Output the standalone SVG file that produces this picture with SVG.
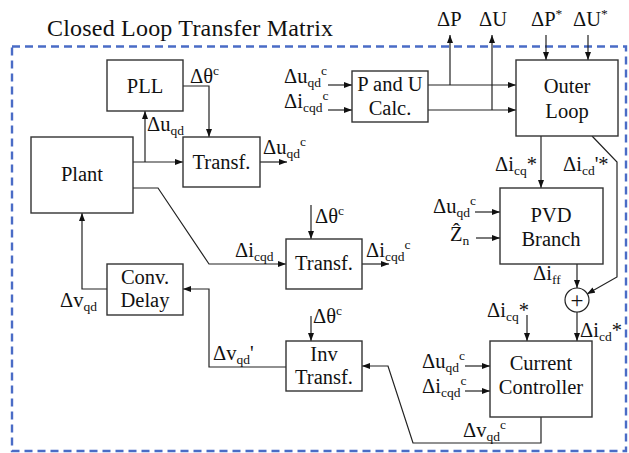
<svg xmlns="http://www.w3.org/2000/svg" width="629" height="453" viewBox="0 0 629 453">
<style>
text{font-family:"Liberation Serif","DejaVu Serif",serif;font-size:20.5px;fill:#111}
.t{font-size:24px}
.s{font-size:13.5px}
.box{fill:#fff;stroke:#333;stroke-width:1.4}
.ln{fill:none;stroke:#222;stroke-width:1.2}
.a{marker-end:url(#ar)}
.c{text-anchor:middle}
</style>
<defs>
<marker id="ar" markerUnits="userSpaceOnUse" markerWidth="8" markerHeight="6" refX="8" refY="3" orient="auto"><path d="M0,0 L8,3 L0,6 z" fill="#111"/></marker>
</defs>
<rect x="12" y="46.5" width="614" height="404.5" fill="none" stroke="#4a6cc6" stroke-width="2.4" stroke-dasharray="8,5"/>
<text class="t" x="47" y="36" textLength="286">Closed Loop Transfer Matrix</text>

<g id="connectors">
<path class="ln a" d="M133,162 H183"/>
<path class="ln a" d="M145,162 V111"/>
<path class="ln a" d="M183,86 H209 V137"/>
<path class="ln a" d="M260,162 H287"/>
<path class="ln a" d="M133,188 H158 L209,264 H286"/>
<path class="ln a" d="M311,205 V239"/>
<path class="ln a" d="M362,264 H389"/>
<path class="ln a" d="M107,289 H82 V213"/>
<path class="ln a" d="M286,367 H209 V289 H183"/>
<path class="ln a" d="M311,316 V341"/>
<path class="ln a" d="M541,417 V443 H413 L388,366 H362"/>
<path class="ln a" d="M465,366 H490"/>
<path class="ln a" d="M465,391 H490"/>
<path class="ln a" d="M527,315 V341"/>
<path class="ln a" d="M577,312 V341"/>
<path class="ln a" d="M577,264 V288"/>
<path class="ln a" d="M541,136 V188"/>
<path class="ln a" d="M592,136 L617,162 V277 L587,294"/>
<path class="ln a" d="M475,212 H500"/>
<path class="ln a" d="M476,238 H500"/>
<path class="ln a" d="M428,85 H516"/>
<path class="ln a" d="M428,110 H516"/>
<path class="ln a" d="M450,85 V35"/>
<path class="ln a" d="M492,110 V35"/>
<path class="ln a" d="M546,35 V60"/>
<path class="ln a" d="M588,35 V60"/>
<path class="ln a" d="M328,85 H352"/>
<path class="ln a" d="M328,110 H352"/>
</g>

<g id="pll"><rect class="box" x="107" y="60" width="76" height="51"/><text class="c" x="145" y="93">PLL</text></g>
<g id="plant"><rect class="box" x="31" y="137" width="102" height="76"/><text class="c" x="82" y="181">Plant</text></g>
<g id="transf1"><rect class="box" x="183" y="137" width="77" height="50"/><text class="c" x="221.5" y="169">Transf.</text></g>
<g id="transf2"><rect class="box" x="286" y="239" width="76" height="50"/><text class="c" x="324" y="270">Transf.</text></g>
<g id="convdelay"><rect class="box" x="107" y="264" width="76" height="51"/><text class="c" x="145" y="284">Conv.</text><text class="c" x="145" y="307">Delay</text></g>
<g id="invtransf"><rect class="box" x="286" y="341" width="76" height="50"/><text class="c" x="324" y="361">Inv</text><text class="c" x="324" y="384">Transf.</text></g>
<g id="pucalc"><rect class="box" x="352" y="71" width="76" height="51"/><text class="c" x="390" y="91">P and U</text><text class="c" x="390" y="115">Calc.</text></g>
<g id="outerloop"><rect class="box" x="516" y="60" width="102" height="76"/><text class="c" x="567" y="93">Outer</text><text class="c" x="567" y="118">Loop</text></g>
<g id="pvd"><rect class="box" x="500" y="188" width="103" height="76"/><text class="c" x="551" y="222">PVD</text><text class="c" x="551" y="246">Branch</text></g>
<g id="cc"><rect class="box" x="490" y="341" width="102" height="76"/><text class="c" x="541" y="370">Current</text><text class="c" x="541" y="394">Controller</text></g>
<g id="sum"><circle cx="577" cy="300" r="12" fill="#fff" stroke="#222" stroke-width="1.2"/><text class="c" x="577" y="308" style="font-size:23px">+</text></g>

<g id="labels">
<text x="190" y="83">Δθ<tspan class="s" dy="-8">c</tspan></text>
<text x="147" y="131">Δu<tspan class="s" dy="4">qd</tspan></text>
<text x="263" y="154">Δu<tspan class="s" dy="4">qd</tspan><tspan class="s" dy="-12">c</tspan></text>
<text x="235" y="257">Δi<tspan class="s" dy="4">cqd</tspan></text>
<text x="315" y="223">Δθ<tspan class="s" dy="-8">c</tspan></text>
<text x="366" y="257">Δi<tspan class="s" dy="4">cqd</tspan><tspan class="s" dy="-12">c</tspan></text>
<text x="433" y="213">Δu<tspan class="s" dy="4">qd</tspan><tspan class="s" dy="-12">c</tspan></text>
<text x="450" y="241">Ẑ<tspan class="s" dy="4">n</tspan></text>
<text x="495" y="171">Δi<tspan class="s" dy="4">cq</tspan><tspan dy="-4">*</tspan></text>
<text x="563" y="171">Δi<tspan class="s" dy="4">cd</tspan><tspan dy="-4">'*</tspan></text>
<text x="533" y="280">Δi<tspan class="s" dy="4">ff</tspan></text>
<text x="60" y="307">Δv<tspan class="s" dy="4">qd</tspan></text>
<text x="213" y="360">Δv<tspan class="s" dy="4">qd</tspan><tspan dy="-4">'</tspan></text>
<text x="313" y="323">Δθ<tspan class="s" dy="-8">c</tspan></text>
<text x="487" y="317">Δi<tspan class="s" dy="4">cq</tspan><tspan dy="-4">*</tspan></text>
<text x="580" y="337">Δi<tspan class="s" dy="4">cd</tspan><tspan dy="-4">*</tspan></text>
<text x="422" y="368">Δu<tspan class="s" dy="4">qd</tspan><tspan class="s" dy="-12">c</tspan></text>
<text x="422" y="393">Δi<tspan class="s" dy="4">cqd</tspan><tspan class="s" dy="-12">c</tspan></text>
<text x="463" y="437">Δv<tspan class="s" dy="4">qd</tspan><tspan class="s" dy="-12">c</tspan></text>
<text x="284" y="83">Δu<tspan class="s" dy="4">qd</tspan><tspan class="s" dy="-12">c</tspan></text>
<text x="284" y="108">Δi<tspan class="s" dy="4">cqd</tspan><tspan class="s" dy="-12">c</tspan></text>
<text x="437" y="26">ΔP</text>
<text x="479" y="26">ΔU</text>
<text x="531" y="26">ΔP<tspan class="s" dy="-8">*</tspan></text>
<text x="573" y="26">ΔU<tspan class="s" dy="-8">*</tspan></text>
</g>
</svg>
